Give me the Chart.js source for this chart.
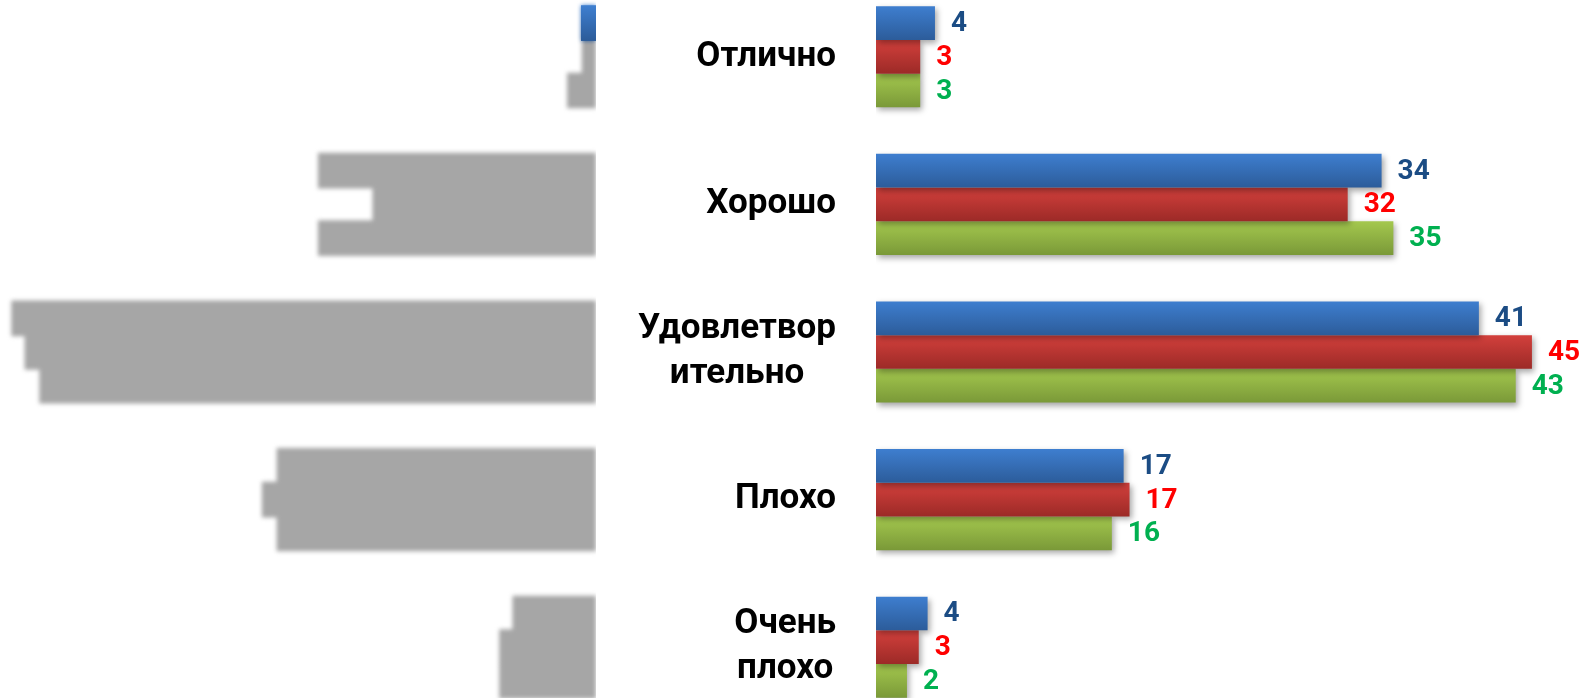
<!DOCTYPE html>
<html>
<head>
<meta charset="utf-8">
<script src="https://cdn.jsdelivr.net/npm/chart.js@4.4.1/dist/chart.umd.min.js"></script>
<style>
    html, body { margin: 0; padding: 0; background: #fff; overflow: hidden; }
    body { width: 1594px; height: 698px; position: relative; }
    #leftChart { position: absolute; left: 0; top: -17px; }
    #rightChart { position: absolute; left: 596px; top: -17px; }
</style>
</head>
<body>
<canvas id="leftChart" width="596" height="738"></canvas>
<canvas id="rightChart" width="998" height="738"></canvas>
<script>
// Категории (с переносами строк как на картинке)
const categories = ['Отлично', 'Хорошо', 'Удовлетворительно', 'Плохо', 'Очень плохо'];
const categoryLines = [['Отлично'], ['Хорошо'], ['Удовлетвор', 'ительно'], ['Плохо'], ['Очень', 'плохо']];

// Правая часть (цветные столбцы)
const seriesBlue = [4.0, 34.3, 40.9, 16.8, 3.5];
const seriesRed = [3.0, 32.0, 44.5, 17.2, 2.9];
const seriesGreen = [3.0, 35.1, 43.4, 16.0, 2.1];

// Левая часть (размытые серые столбцы)
const leftFirst = [0.95, 18.8, 39.6, 21.6, 5.6];
const leftSecond = [0.9, 15.1, 38.7, 22.6, 6.5];
const leftThird = [1.9, 18.8, 37.7, 21.6, 6.5];

const PX_PER_UNIT = 14.74;

// Градиенты: [верх, низ]
const blueGrad = ['#3E7ECF', '#2C5C9A'];
const redGrad = ['#D3403C', '#9C2A27'];
const greenGrad = ['#A4C84E', '#7A9938'];
const grayGrad = ['#A6A6A6', '#A6A6A6'];

const labelColors = ['#1B4C84', '#FF0000', '#00B050'];

// Плагин: вертикальный градиент на каждом столбце
const gradientPlugin = {
    id: 'barGradient',
    beforeDatasetDraw(chart, args) {
        const ctx = chart.ctx;
        const grads = chart.options.plugins.barGradient.colors[args.index];
        args.meta.data.forEach((bar, i) => {
            const pair = Array.isArray(grads[0]) ? grads[i] : grads;
            const top = bar.y - bar.height / 2;
            const g = ctx.createLinearGradient(0, top, 0, top + bar.height);
            g.addColorStop(0, pair[0]);
            g.addColorStop(1, pair[1]);
            bar.options = Object.assign({}, bar.options, { backgroundColor: g });
        });
    }
};

// Плагин: тень под столбцами
const shadowPlugin = {
    id: 'barShadow',
    beforeDatasetDraw(chart) {
        const ctx = chart.ctx;
        ctx.save();
        ctx.shadowColor = 'rgba(0,0,0,0.35)';
        ctx.shadowBlur = 6;
        ctx.shadowOffsetX = 2;
        ctx.shadowOffsetY = 3;
    },
    afterDatasetDraw(chart) {
        chart.ctx.restore();
    }
};

// Плагин: подписи значений справа от столбцов
const valueLabelPlugin = {
    id: 'valueLabels',
    afterDatasetsDraw(chart) {
        const ctx = chart.ctx;
        ctx.save();
        ctx.font = 'bold 28px Roboto';
        ctx.textAlign = 'left';
        ctx.textBaseline = 'middle';
        chart.data.datasets.forEach((ds, di) => {
            ctx.fillStyle = labelColors[di];
            chart.getDatasetMeta(di).data.forEach((bar, i) => {
                ctx.fillText(String(Math.round(ds.data[i])), bar.x + 16, bar.y + 1);
            });
        });
        ctx.restore();
    }
};

// Плагин: подписи категорий (блок выровнен вправо, строки по центру)
const categoryLabelPlugin = {
    id: 'categoryLabels',
    afterDraw(chart) {
        const ctx = chart.ctx;
        const yScale = chart.scales.y;
        const rightEdge = 240;
        const lineH = 45;
        ctx.save();
        ctx.font = 'bold 35px Roboto';
        ctx.fillStyle = '#000';
        ctx.textAlign = 'center';
        ctx.textBaseline = 'middle';
        categoryLines.forEach((lines, i) => {
            const maxW = Math.max(...lines.map(l => ctx.measureText(l).width));
            const cx = rightEdge - maxW / 2;
            const cy = yScale.getPixelForValue(i);
            lines.forEach((line, j) => {
                ctx.fillText(line, cx, cy + (j - (lines.length - 1) / 2) * lineH);
            });
        });
        ctx.restore();
    }
};

// Плагин: размытие левой части целиком (без швов), кроме первого синего столбца
const blurPlugin = {
    id: 'blurBars',
    afterDatasetsDraw(chart) {
        const ctx = chart.ctx;
        const c = chart.canvas;
        const copy = document.createElement('canvas');
        copy.width = c.width;
        copy.height = c.height;
        copy.getContext('2d').drawImage(c, 0, 0);
        ctx.save();
        ctx.setTransform(1, 0, 0, 1, 0, 0);
        ctx.clearRect(0, 0, c.width, c.height);
        ctx.filter = 'blur(2px)';
        ctx.drawImage(copy, 0, 0);
        ctx.restore();
        chart.getDatasetMeta(0).data[0].draw(ctx);
    }
};

const barDefaults = {
    categoryPercentage: 0.685,
    barPercentage: 1.0,
    borderWidth: 0
};

// Левая диаграмма
new Chart(document.getElementById('leftChart').getContext('2d'), {
    type: 'bar',
    data: {
        labels: categories,
        datasets: [
            Object.assign({ data: leftFirst, inflateAmount: 1 }, barDefaults),
            Object.assign({ data: leftSecond, inflateAmount: 1 }, barDefaults),
            Object.assign({ data: leftThird, inflateAmount: 1 }, barDefaults)
        ]
    },
    options: {
        indexAxis: 'y',
        responsive: false,
        animation: false,
        events: [],
        layout: { padding: 0 },
        scales: {
            x: { display: false, reverse: true, min: 0, max: 596 / PX_PER_UNIT },
            y: { display: false }
        },
        plugins: {
            legend: { display: false },
            tooltip: { enabled: false },
            barGradient: {
                colors: [
                    [blueGrad, grayGrad, grayGrad, grayGrad, grayGrad],
                    grayGrad,
                    grayGrad
                ]
            }
        }
    },
    plugins: [gradientPlugin, blurPlugin]
});

// Правая диаграмма
new Chart(document.getElementById('rightChart').getContext('2d'), {
    type: 'bar',
    data: {
        labels: categories,
        datasets: [
            Object.assign({ label: 'A', data: seriesBlue }, barDefaults),
            Object.assign({ label: 'B', data: seriesRed }, barDefaults),
            Object.assign({ label: 'C', data: seriesGreen }, barDefaults)
        ]
    },
    options: {
        indexAxis: 'y',
        responsive: false,
        animation: false,
        events: [],
        layout: { padding: { left: 280, right: 0, top: 0, bottom: 0 } },
        scales: {
            x: { display: false, min: 0, max: 718 / PX_PER_UNIT },
            y: { display: false }
        },
        plugins: {
            legend: { display: false },
            tooltip: { enabled: false },
            barGradient: { colors: [blueGrad, redGrad, greenGrad] }
        }
    },
    plugins: [gradientPlugin, shadowPlugin, valueLabelPlugin, categoryLabelPlugin]
});
</script>
</body>
</html>
